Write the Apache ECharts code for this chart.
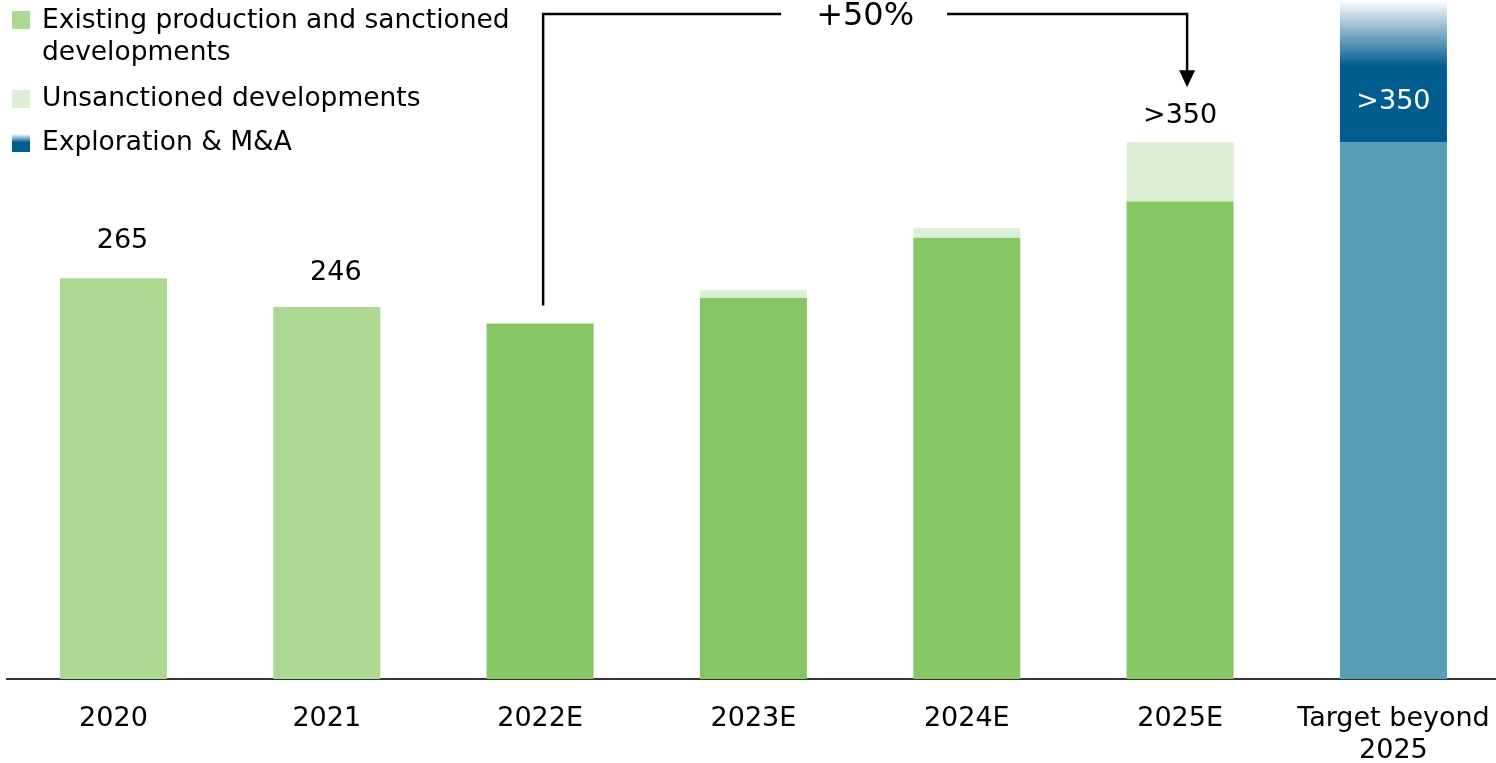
<!DOCTYPE html>
<html><head><meta charset="utf-8">
<script src="https://cdn.jsdelivr.net/npm/echarts@6/dist/echarts.min.js"></script>
<style>html,body{margin:0;padding:0;background:#fff}#c{width:1496px;height:763px}</style>
</head><body><div id="c"></div>
<script>
// ---- data ----
const categories = ['2020', '2021', '2022E', '2023E', '2024E', '2025E', 'Target beyond\n2025'];
const existingProduction = [265, 246, 235, 252, 292, 316, 355];
const unsanctioned = [null, null, null, 5, 6, 39, null];
const explorationMA = [null, null, null, null, null, null, 94];
const valueLabels = ['265', '246', '', '', '', '>350', '>350'];
const growthLabel = '+50%';
const seriesNames = ['Existing production and sanctioned developments', 'Unsanctioned developments', 'Exploration & M&A'];
const yMax = 449;

// ---- styles ----
const FONT = 'DejaVu Sans';
const C_HIST = '#ACD891', C_FCST = '#86C664', C_UNS = '#DCEED3', C_TARGET = '#569FB7', C_EXPL = '#005B8F';
const histCount = 2, targetIndex = 6;
const topDist = {0: 24, 1: 21, 5: 13};
const labelShift = {0: 9, 1: 9};
const stacks = [existingProduction, unsanctioned, explorationMA];

function existingColor(i) { return i < histCount ? C_HIST : (i === targetIndex ? C_TARGET : C_FCST); }
function topIdx(i) { let t = -1; stacks.forEach((s, k) => { if (s[i] != null) t = k; }); return t; }
function makeData(k) {
  return stacks[k].map((v, i) => {
    const item = {value: v};
    if (k === 0) item.itemStyle = {color: existingColor(i)};
    if (valueLabels[i] && topIdx(i) === k) {
      if (k === 2) item.label = {show: true, position: 'insideBottom', distance: 27, color: '#fff', formatter: valueLabels[i]};
      else item.label = {show: true, position: 'top', distance: (topDist[i] != null ? topDist[i] : 20),
        offset: [labelShift[i] || 0, 0], color: '#000', formatter: valueLabels[i]};
    }
    return item;
  });
}
const explGradient = {type: 'linear', x: 0, y: 0, x2: 0, y2: 1, colorStops: [
  {offset: 0, color: '#ffffff'}, {offset: 0.47, color: C_EXPL}, {offset: 1, color: C_EXPL}]};
const labelBase = {fontFamily: FONT, fontSize: 27};

const chart = echarts.init(document.getElementById('c'), null, {renderer: 'canvas'});
const option = {
  animation: false,
  backgroundColor: '#fff',
  textStyle: {fontFamily: FONT},
  grid: {left: 6.8, width: 1493.3, top: 0, height: 679, containLabel: false, outerBoundsMode: 'none'},
  legend: [
    {data: [seriesNames[0]], orient: 'vertical', left: 12, top: 5, padding: 0, selectedMode: false,
      itemWidth: 25, itemHeight: 64, icon: 'path://M0,0M25,64M0,6H18V24H0Z',
      formatter: () => 'Existing production and sanctioned\ndevelopments',
      textStyle: {fontFamily: FONT, fontSize: 26.5, lineHeight: 32, color: '#000'}},
    {data: [seriesNames[1], seriesNames[2]], orient: 'vertical', left: 12, top: 83.5, padding: 0, selectedMode: false,
      itemGap: 13, itemWidth: 25, itemHeight: 18, icon: 'path://M0,0M25,18M0,0H18V18H0Z',
      textStyle: {fontFamily: FONT, fontSize: 26.5, lineHeight: 31, color: '#000'}}
  ],
  xAxis: {type: 'category', data: categories,
    axisTick: {show: false},
    axisLine: {lineStyle: {color: '#333333', width: 2}},
    axisLabel: {interval: 0, fontFamily: FONT, fontSize: 27, lineHeight: 32, margin: 24, color: '#000'}},
  yAxis: {type: 'value', min: 0, max: yMax, show: false},
  series: [
    {name: seriesNames[0], type: 'bar', stack: 'total', barWidth: 107, itemStyle: {color: C_HIST},
      label: labelBase, data: makeData(0), z: 2},
    {name: seriesNames[1], type: 'bar', stack: 'total', barWidth: 107, itemStyle: {color: C_UNS},
      label: labelBase, data: makeData(1), z: 2},
    {name: seriesNames[2], type: 'bar', stack: 'total', barWidth: 107, itemStyle: {color: explGradient},
      label: labelBase, data: makeData(2), z: 2}
  ]
};
chart.setOption(option);

// ---- growth bracket annotation ----
const p22 = chart.convertToPixel({gridIndex: 0}, [2, existingProduction[2]]);
const p25 = chart.convertToPixel({gridIndex: 0}, [5, existingProduction[5] + unsanctioned[5]]);
const lx = p22[0] + 3, lBottom = p22[1] - 18;
const rx = p25[0] + 7, tip = p25[1] - 55;
const topY = 14, mid = (lx + rx) / 2;
const lineStyle = {stroke: '#000', lineWidth: 2.5, fill: null};
chart.setOption({
  graphic: [
    {type: 'polyline', shape: {points: [[lx, lBottom], [lx, topY], [mid - 84, topY]]}, style: lineStyle, z: 10},
    {type: 'polyline', shape: {points: [[mid + 82, topY], [rx, topY], [rx, tip - 15]]}, style: lineStyle, z: 10},
    {type: 'polygon', shape: {points: [[rx - 8, tip - 17], [rx + 8, tip - 17], [rx, tip]]}, style: {fill: '#000'}, z: 10},
    {type: 'text', x: mid, y: topY + 3, style: {text: growthLabel, fontFamily: FONT, fontSize: 32, fill: '#000',
      align: 'center', verticalAlign: 'middle'}, z: 10}
  ]
});
</script></body></html>
